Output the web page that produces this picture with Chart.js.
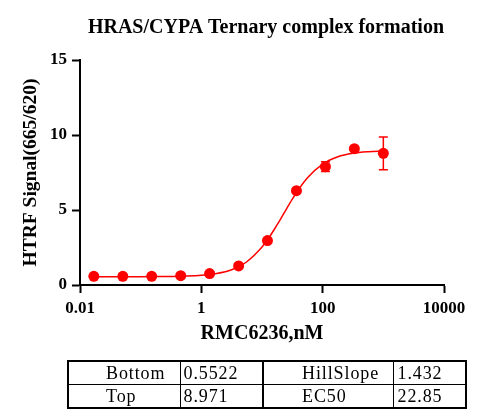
<!DOCTYPE html>
<html><head><meta charset="utf-8">
<script src="https://cdn.jsdelivr.net/npm/chart.js@4.4.1/dist/chart.umd.min.js"></script>
<style>
html,body{margin:0;padding:0;background:#fff;}
#wrap{position:relative;width:500px;height:420px;}
#c{position:absolute;left:0;top:0;}
#params{position:absolute;left:67px;top:360px;border-collapse:collapse;border:2px solid #000;
  font-family:'Liberation Serif','Times New Roman',serif;font-size:18px;letter-spacing:0.9px;table-layout:fixed;color:#000;}
#params td{border:1px solid #000;height:22px;padding:0;line-height:21px;white-space:nowrap;overflow:hidden;}
#params td.mid{border-right:2px solid #000;}
</style></head>
<body>
<div id="wrap">
<canvas id="c" width="500" height="420"></canvas>
<table id="params">
<colgroup><col style="width:112px"><col style="width:83px"><col style="width:130px"><col style="width:73px"></colgroup>
<tbody id="tbody"></tbody>
</table>
</div>
<script>
// ---- data ----
const concentrations = [0.0169, 0.0508, 0.152, 0.457, 1.37, 4.12, 12.3, 37.0, 111, 333, 1000];
const signal = [0.58, 0.58, 0.58, 0.62, 0.76, 1.27, 2.96, 6.29, 7.89, 9.09, 8.78];
const signalErr = [0, 0, 0, 0, 0, 0, 0, 0, 0.33, 0.05, 1.09];
const fitX = [0.0169, 0.0316, 0.0562, 0.1, 0.178, 0.316, 0.562, 1, 1.78, 3.16, 5.62, 10, 12.6, 15.8, 20, 25.1, 31.6, 39.8, 56.2, 100, 178, 316, 562, 1000];
const fitY = [0.5525, 0.5529, 0.5537, 0.5557, 0.5602, 0.5705, 0.5938, 0.6465, 0.764, 1.020, 1.549, 2.526, 3.066, 3.683, 4.354, 5.047, 5.724, 6.352, 7.153, 8.064, 8.548, 8.780, 8.886, 8.934];
const xTicks = [0.01, 1, 100, 10000];
const yTicks = [0, 5, 10, 15];
const paramLabels = ['Bottom', 'Top', 'HillSlope', 'EC50'];
const paramValues = ['0.5522', '8.971', '1.432', '22.85'];

// ---- table ----
const tbody = document.getElementById('tbody');
[[0, 2], [1, 3]].forEach(function (pair) {
  const tr = document.createElement('tr');
  const cells = [
    [paramLabels[pair[0]], 37, ''], [paramValues[pair[0]], 3, 'mid'],
    [paramLabels[pair[1]], 38, ''], [paramValues[pair[1]], 4, '']
  ];
  cells.forEach(function (c) {
    const td = document.createElement('td');
    td.textContent = c[0];
    td.style.paddingLeft = c[1] + 'px';
    if (c[2]) td.className = c[2];
    tr.appendChild(td);
  });
  tbody.appendChild(tr);
});

const serif = "'Liberation Serif', 'Times New Roman', serif";

const errorBars = {
  id: 'errorBars',
  afterDatasetsDraw(chart) {
    const ctx = chart.ctx, xs = chart.scales.x, ys = chart.scales.y;
    ctx.save();
    ctx.strokeStyle = '#ff0000';
    ctx.lineWidth = 1.5;
    concentrations.forEach(function (c, i) {
      const e = signalErr[i];
      if (!e) return;
      const px = xs.getPixelForValue(c);
      const top = ys.getPixelForValue(signal[i] + e);
      const bot = ys.getPixelForValue(signal[i] - e);
      ctx.beginPath();
      ctx.moveTo(px, top); ctx.lineTo(px, bot);
      ctx.moveTo(px - 4.5, top); ctx.lineTo(px + 4.5, top);
      ctx.moveTo(px - 4.5, bot); ctx.lineTo(px + 4.5, bot);
      ctx.stroke();
    });
    ctx.restore();
  }
};

new Chart(document.getElementById('c'), {
  type: 'scatter',
  data: {
    datasets: [
      {
        type: 'scatter',
        data: concentrations.map((x, i) => ({x: x, y: signal[i]})),
        backgroundColor: '#ff0000',
        borderWidth: 0,
        pointRadius: 5.5,
        order: 0
      },
      {
        type: 'line',
        data: fitX.map((x, i) => ({x: x, y: fitY[i]})),
        borderColor: '#ff0000',
        borderWidth: 1.5,
        pointRadius: 0,
        fill: false,
        cubicInterpolationMode: 'monotone',
        order: 1
      }
    ]
  },
  options: {
    responsive: false,
    animation: false,
    layout: {padding: {left: 0, right: 56, top: 0, bottom: 70}},
    plugins: {
      legend: {display: false},
      tooltip: {enabled: false},
      title: {
        display: true,
        align: 'end',
        text: 'HRAS/CYPA Ternary complex formation',
        color: '#000',
        font: {family: serif, size: 20, weight: 'bold'},
        padding: {top: 15.5, bottom: 20.5}
      }
    },
    scales: {
      x: {
        type: 'logarithmic',
        min: 0.01, max: 10000,
        afterBuildTicks: function (s) { s.ticks = xTicks.map(v => ({value: v})); },
        afterFit: function (s) { s.height = 65; },
        ticks: {
          color: '#000', font: {family: serif, size: 17, weight: 'bold'},
          padding: 5, autoSkip: false, maxRotation: 0,
          callback: function (v) { return String(v); }
        },
        grid: {drawOnChartArea: false, drawTicks: true, tickLength: 8, tickWidth: 2, tickColor: '#000'},
        border: {display: true, color: '#000', width: 2},
        title: {display: true, text: 'RMC6236,nM', color: '#000',
          font: {family: serif, size: 20, weight: 'bold'}, padding: {top: 0, bottom: 4}}
      },
      y: {
        min: 0, max: 15,
        afterBuildTicks: function (s) { s.ticks = yTicks.map(v => ({value: v})); },
        afterFit: function (s) { s.width = 80; },
        ticks: {color: '#000', font: {family: serif, size: 17, weight: 'bold'}, padding: 5},
        grid: {drawOnChartArea: false, drawTicks: true, tickLength: 8, tickWidth: 2, tickColor: '#000'},
        border: {display: true, color: '#000', width: 2},
        title: {display: true, text: 'HTRF Signal(665/620)', color: '#000',
          font: {family: serif, size: 19.5, weight: 'bold'}, padding: {top: 19, bottom: 0}}
      }
    }
  },
  plugins: [errorBars]
});
</script>
</body></html>
